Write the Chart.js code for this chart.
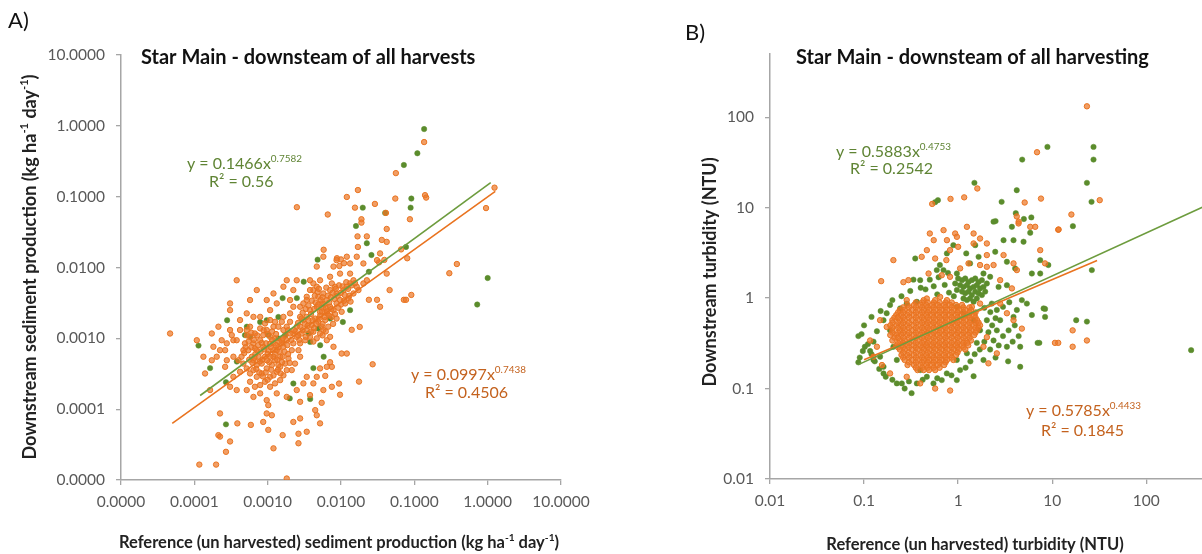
<!DOCTYPE html>
<html>
<head>
<meta charset="utf-8">
<script src="https://cdn.jsdelivr.net/npm/chart.js@4.4.1/dist/chart.umd.min.js"></script>
<style>
  body { margin: 0; width: 1202px; height: 554px; overflow: hidden; position: relative; background: #fff; }
  .panel { position: absolute; top: 0; }
</style>
</head>
<body>
<div class="panel" style="left:0"><canvas id="chartA" width="600" height="554"></canvas></div>
<div class="panel" style="left:600px"><canvas id="chartB" width="640" height="554"></canvas></div>
<script>
// ---- panel A : sediment production (kg ha-1 day-1) ----
const sedTicks = [1e-5, 1e-4, 1e-3, 1e-2, 1e-1, 1, 10];
const sedTickLabels = ['0.0000', '0.0001', '0.0010', '0.0100', '0.1000', '1.0000', '10.0000'];

const sedGreen = [
  [0.136, 0.90], [0.11, 0.41], [0.072, 0.28], [0.091, 0.094], [0.089, 0.070], [0.0198, 0.070],
  [0.016, 0.0385], [0.040, 0.059], [0.0225, 0.022], [0.077, 0.0195], [0.0048, 0.0129], [1.0, 0.0071],
  [0.72, 0.0030], [0.026, 0.015], [0.024, 0.0087], [0.0031, 0.0063], [0.0025, 0.0037], [0.0016, 0.0037],
  [0.0014, 0.0020], [0.00097, 0.0018], [0.00079, 0.0017], [0.00052, 0.00146], [0.00028, 0.0018],
  [0.000114, 0.00079], [0.000164, 0.00038], [0.00027, 0.00024], [0.00038, 0.00047], [0.00049, 0.00111],
  [0.00058, 0.00105], [0.00102, 0.00111], [0.0014, 0.0010], [0.00173, 0.00111], [0.0036, 0.00117],
  [0.0038, 0.00089], [0.0049, 0.00138], [0.0052, 0.0008], [0.0058, 0.00055], [0.0042, 0.00038],
  [0.00224, 0.00023], [0.002, 0.000142], [0.0038, 0.000139], [0.00027, 0.000061], [0.0133, 0.0025],
  [0.0106, 0.0017], [0.0071, 0.0019]
];

const sedOrange = [
  [0.136, 0.59], [0.056, 0.215], [0.017, 0.124], [0.012, 0.099], [0.0025, 0.071], [0.0066, 0.056],
  [0.029, 0.079], [0.055, 0.094], [0.14, 0.105], [0.145, 0.097], [0.95, 0.069], [1.24, 0.134],
  [0.087, 0.048], [0.0155, 0.070], [0.019, 0.048], [0.019, 0.043], [0.041, 0.059], [0.042, 0.035],
  [0.0168, 0.0275], [0.0225, 0.0275], [0.017, 0.0195], [0.036, 0.0245], [0.042, 0.023], [0.066, 0.018],
  [0.0058, 0.0178], [0.08, 0.0135], [0.033, 0.0118], [0.039, 0.0128], [0.0088, 0.0135], [0.010, 0.013],
  [0.011, 0.0115], [0.0095, 0.0105], [0.30, 0.0083], [0.38, 0.0112], [0.091, 0.0041], [0.072, 0.0035],
  [0.077, 0.0035], [0.046, 0.0048], [0.031, 0.0035], [0.024, 0.0035], [0.018, 0.00145], [0.014, 0.00132],
  [0.0176, 0.000245], [0.027, 0.00043], [0.0094, 0.00023], [0.0097, 0.00016],
  [4.67e-3, 1.03e-2], [5.75e-3, 1.42e-2], [7.9e-3, 1.03e-2], [8.7e-3, 1.27e-2], [1.2e-2, 1.42e-2],
  [1.33e-2, 1.14e-2], [1.64e-2, 1.42e-2], [2.02e-2, 1.14e-2], [3.1e-2, 1.27e-2], [3.41e-2, 1.58e-2],
  [4.2e-2, 8.2e-3], [1.33e-2, 8.2e-3], [9.7e-3, 8.2e-3], [7.1e-3, 7.4e-3], [5.18e-3, 6.6e-3],
  [4.2e-3, 5.96e-3], [3.78e-3, 6.6e-3], [2.49e-3, 6.6e-3], [1.82e-3, 6.6e-3], [1.64e-3, 5.35e-3],
  [1.2e-3, 4.3e-3], [9.7e-4, 3.47e-3], [7.1e-4, 4.8e-3], [3.78e-4, 6.6e-3], [5.75e-4, 3.47e-3],
  [3.07e-4, 3.11e-3], [3.07e-4, 2.5e-3], [5.18e-4, 2.25e-3], [7.9e-4, 2.01e-3], [6.4e-4, 2.01e-3],
  [4.2e-4, 1.81e-3], [1.33e-3, 3.11e-3], [1.08e-3, 2.5e-3], [2.02e-3, 3.47e-3], [2.24e-3, 4.8e-3],
  [3.41e-3, 3.86e-3], [3.78e-3, 4.8e-3], [4.67e-3, 5.35e-3], [2.77e-3, 2.01e-3], [2.02e-3, 2.25e-3],
  [1.64e-3, 2.01e-3], [2.24e-3, 2.79e-3], [2.77e-3, 2.79e-3],
  [3.07e-3, 3.11e-3], [3.41e-3, 3.47e-3], [4.2e-3, 4.8e-3], [4.9e-3, 3.86e-3], [5.45e-3, 3.11e-3],
  [5.75e-3, 4.3e-3], [6.4e-3, 3.47e-3], [7.1e-3, 4.8e-3], [7.5e-3, 5.96e-3], [8.3e-3, 5.35e-3],
  [8.7e-3, 4.3e-3], [9.7e-3, 3.47e-3], [1.08e-2, 4.8e-3], [1.2e-2, 5.35e-3], [1.33e-2, 5.96e-3],
  [1.48e-2, 6.6e-3], [1.64e-2, 5.35e-3], [4.67e-3, 2.79e-3], [5.18e-3, 2.37e-3], [5.75e-3, 2.64e-3],
  [6.4e-3, 2.25e-3], [7.1e-3, 2.79e-3], [7.9e-3, 2.5e-3], [8.7e-3, 3.11e-3], [1.02e-2, 2.37e-3],
  [3.78e-3, 2.5e-3], [3.41e-3, 2.01e-3], [3.07e-3, 1.81e-3], [2.77e-3, 1.46e-3], [2.49e-3, 1.46e-3],
  [2.24e-3, 1.17e-3], [2.9e-3, 1.17e-3], [3.41e-3, 1.31e-3], [4.0e-3, 1.54e-3], [4.45e-3, 1.9e-3],
  [4.9e-3, 1.71e-3], [5.45e-3, 1.46e-3], [6.1e-3, 1.81e-3], [4.2e-3, 1.24e-3], [3.78e-3, 1.05e-3],
  [3.25e-3, 9.4e-4], [2.77e-3, 8.5e-4], [4.67e-3, 1.0e-3], [5.18e-3, 1.17e-3], [5.75e-3, 1.31e-3],
  [6.7e-3, 1.46e-3], [7.5e-3, 2.01e-3], [8.7e-3, 1.9e-3], [1.14e-2, 3.11e-3], [1.26e-2, 3.65e-3],
  [1.48e-2, 4.3e-3], [1.73e-2, 4.8e-3], [2.02e-2, 5.96e-3], [2.25e-2, 6.6e-3], [3.41e-2, 2.79e-3],
  [7.1e-3, 1.05e-3], [6.4e-3, 9.4e-4],
  [3.2e-3, 1.6e-3], [3.6e-3, 1.8e-3], [3.9e-3, 2.2e-3], [4.3e-3, 2.6e-3], [4.5e-3, 3.2e-3],
  [4.9e-3, 3.0e-3], [5.3e-3, 3.5e-3], [5.6e-3, 3.8e-3], [5.9e-3, 3.0e-3], [6.2e-3, 2.7e-3],
  [6.6e-3, 4.0e-3], [6.9e-3, 3.2e-3], [7.3e-3, 3.8e-3], [7.7e-3, 4.4e-3], [8.1e-3, 3.6e-3],
  [8.5e-3, 5.0e-3], [9.0e-3, 4.0e-3], [9.4e-3, 5.6e-3], [1.0e-2, 4.4e-3], [1.05e-2, 5.4e-3],
  [1.12e-2, 4.1e-3], [1.18e-2, 6.2e-3], [1.25e-2, 5.0e-3], [1.4e-2, 5.6e-3], [1.55e-2, 6.0e-3],
  [3.0e-3, 1.3e-3], [2.6e-3, 1.1e-3], [2.4e-3, 1.25e-3], [3.0e-3, 2.3e-3], [3.3e-3, 2.6e-3],
  [3.6e-3, 2.9e-3], [4.0e-3, 3.4e-3], [4.4e-3, 4.0e-3], [4.8e-3, 4.5e-3], [5.2e-3, 2.1e-3],
  [5.5e-3, 2.4e-3], [6.0e-3, 2.0e-3], [6.5e-3, 2.4e-3], [6.9e-3, 2.1e-3], [7.4e-3, 2.6e-3],
  [3.9e-3, 1.25e-3], [4.3e-3, 1.4e-3], [4.6e-3, 1.6e-3], [5.0e-3, 1.9e-3], [3.5e-3, 1.5e-3],
  [2.9e-3, 1.9e-3], [2.6e-3, 1.65e-3], [4.1e-3, 1.8e-3], [5.6e-3, 1.6e-3], [6.2e-3, 1.25e-3],
  [7.8e-3, 1.6e-3], [8.3e-3, 2.2e-3], [9.2e-3, 2.7e-3], [1.0e-2, 3.0e-3], [1.1e-2, 3.4e-3],
  [1.3e-2, 4.0e-3], [1.35e-2, 3.3e-3], [6.3e-3, 5.2e-3], [5.0e-3, 5.0e-3], [3.3e-3, 1.05e-3],
  [2.7e-3, 9.5e-4], [4.2e-3, 9.0e-4], [5.6e-3, 1.1e-3],
  [5.18e-4, 1.31e-3], [5.75e-4, 1.05e-3], [6.4e-4, 8.5e-4], [5.45e-4, 6.8e-4], [6.1e-4, 5.5e-4],
  [7.1e-4, 6.8e-4], [7.9e-4, 9.4e-4], [8.7e-4, 1.11e-3], [9.7e-4, 1.31e-3], [1.08e-3, 1.05e-3],
  [1.2e-3, 8.5e-4], [1.33e-3, 6.8e-4], [1.48e-3, 5.5e-4], [1.64e-3, 7.6e-4], [1.82e-3, 9.4e-4],
  [2.02e-3, 1.17e-3], [1.64e-3, 1.31e-3], [1.4e-3, 1.46e-3], [1.2e-3, 1.46e-3], [1.02e-3, 6.8e-4],
  [9.2e-4, 5.5e-4], [8.3e-4, 4.4e-4], [7.1e-4, 4.2e-4], [6.4e-4, 3.56e-4], [5.75e-4, 3.19e-4],
  [7.1e-4, 2.86e-4], [8.3e-4, 3.19e-4], [9.7e-4, 3.76e-4], [1.14e-3, 4.2e-4], [1.26e-3, 4.9e-4],
  [1.48e-3, 3.96e-4], [1.73e-3, 4.4e-4], [1.92e-3, 5.2e-4], [2.13e-3, 6.8e-4], [2.24e-3, 8.5e-4],
  [1.08e-3, 2.86e-4], [9.2e-4, 2.44e-4], [7.9e-4, 2.19e-4], [6.7e-4, 2.07e-4], [5.75e-4, 2.44e-4],
  [5.18e-4, 1.86e-4], [1.26e-3, 2.31e-4], [1.48e-3, 2.57e-4], [1.64e-3, 3.0e-4], [1.82e-3, 3.56e-4],
  [1.33e-3, 3.37e-4], [8.7e-4, 7.6e-4], [7.5e-4, 5.5e-4], [1.08e-3, 5.5e-4], [1.2e-3, 6.8e-4],
  [1.56e-3, 9.4e-4], [6.7e-4, 1.17e-3], [7.9e-4, 1.38e-3], [9.2e-4, 1.62e-3], [1.08e-3, 1.81e-3],
  [1.26e-3, 1.71e-3], [1.56e-3, 1.71e-3], [1.82e-3, 1.46e-3], [2.02e-3, 1.71e-3], [2.49e-3, 1.05e-3],
  [2.63e-3, 6.8e-4], [2.77e-3, 5.5e-4], [2.36e-3, 4.4e-4], [2.13e-3, 3.56e-4], [6.4e-4, 4.9e-4],
  [4.9e-4, 8.5e-4], [5.75e-4, 1.46e-3], [4.67e-4, 4.4e-4], [5.18e-4, 3.76e-4], [6.7e-4, 7.2e-4],
  [5.5e-4, 9e-4], [6e-4, 7.5e-4], [6.8e-4, 6e-4], [7.4e-4, 8e-4], [8e-4, 6.5e-4], [8.5e-4, 5e-4],
  [9e-4, 7e-4], [9.5e-4, 8.5e-4], [1.0e-3, 6e-4], [1.05e-3, 4.6e-4], [1.1e-3, 7.5e-4], [1.15e-3, 9.5e-4],
  [1.25e-3, 6e-4], [1.3e-3, 8e-4], [1.35e-3, 5e-4], [1.4e-3, 4.2e-4], [1.45e-3, 6.5e-4], [1.55e-3, 8.5e-4],
  [1.6e-3, 5.5e-4], [1.7e-3, 6.5e-4], [1.75e-3, 1.1e-3], [1.85e-3, 8e-4], [1.9e-3, 6e-4], [2.0e-3, 4.5e-4],
  [6.2e-4, 4.5e-4], [7e-4, 3.7e-4], [7.7e-4, 3.3e-4], [8.6e-4, 2.9e-4], [9.4e-4, 3.3e-4], [1.0e-3, 2.6e-4],
  [1.12e-3, 3.6e-4], [1.2e-3, 3.0e-4], [1.38e-3, 3.6e-4], [1.5e-3, 3.2e-4], [1.57e-3, 4.6e-4],
  [1.3e-3, 1.15e-3], [1.15e-3, 1.25e-3], [1.0e-3, 1.15e-3], [8.8e-4, 1.3e-3], [7.2e-4, 1.1e-3],
  [6.0e-4, 1.2e-3], [5.2e-4, 1.1e-3], [4.8e-4, 6.2e-4], [4.4e-4, 5.5e-4], [5.6e-4, 5e-4], [6.6e-4, 5.3e-4],
  [7.8e-4, 4.7e-4], [9.8e-4, 4.9e-4], [1.2e-3, 5.5e-4], [1.4e-3, 7.5e-4], [1.6e-3, 1.0e-3],
  [1.9e-3, 1.3e-3], [2.3e-3, 1.3e-3], [2.1e-3, 9.5e-4], [8.3e-4, 8.6e-4], [1.08e-3, 8.4e-4],
  [1.27e-3, 1.0e-3], [1.44e-3, 9.0e-4], [6.5e-4, 9.5e-4], [5.0e-4, 7.5e-4],
  [4.67e-5, 1.17e-3], [1.08e-4, 9.4e-4], [1.33e-4, 5.5e-4], [1.4e-4, 3.19e-4], [1.73e-4, 1.17e-3],
  [2.13e-4, 1.46e-3], [1.73e-4, 4.9e-4], [2.02e-4, 5.5e-4], [2.36e-4, 9.4e-4], [2.63e-4, 6.8e-4],
  [2.77e-4, 4.9e-4], [3.07e-4, 1.31e-3], [3.24e-4, 1.11e-3], [3.41e-4, 9.4e-4], [3.41e-4, 2.86e-4],
  [3.78e-4, 1.86e-4], [3.07e-4, 2.07e-4], [4.2e-4, 3.37e-4], [4.67e-4, 6.8e-4], [4.0e-4, 4.9e-4],
  [3.41e-4, 5.5e-4], [2.63e-4, 3.96e-4], [1.64e-4, 1.86e-4], [1.82e-4, 7.6e-4], [2.24e-4, 6.8e-4],
  [4.2e-4, 1.31e-3], [3.78e-4, 9.4e-4], [2.77e-4, 8.5e-4],
  [2.24e-4, 8.7e-5], [2.13e-4, 4.3e-5], [2.24e-4, 4.1e-5], [3.07e-4, 3.5e-5], [2.7e-4, 2.5e-5],
  [1.17e-4, 1.65e-5], [1.98e-4, 1.65e-5], [3.86e-4, 6.3e-5], [5.9e-4, 6e-5], [8.7e-4, 6.6e-5],
  [1.02e-3, 5.1e-5], [1.2e-3, 2.8e-5], [1.6e-3, 4.3e-5], [2.24e-3, 6.6e-5], [2.63e-3, 4.5e-5],
  [2.77e-3, 7.4e-5], [3.41e-3, 4.8e-5], [2.63e-3, 3.3e-5], [1.82e-3, 1.05e-5], [9.7e-4, 1.34e-4],
  [1.02e-3, 1.14e-4], [9.7e-4, 8.7e-5], [1.14e-3, 8.2e-5], [1.82e-3, 1.49e-4], [2.77e-3, 1.27e-4],
  [3.78e-3, 1.58e-4], [4.45e-3, 9.7e-5], [4.67e-3, 8.2e-5], [5.18e-3, 6.3e-5], [5.45e-3, 1.23e-4],
  [5.75e-3, 1.86e-4], [7.5e-3, 2.07e-4], [1.02e-2, 6.1e-4], [7.9e-3, 7.6e-4], [7.1e-3, 4.6e-4],
  [7.5e-3, 3.96e-4], [6.1e-3, 2.95e-4], [1.2e-2, 6.1e-4], [3.07e-3, 2.31e-4], [3.41e-3, 2.86e-4],
  [4.2e-3, 2.31e-4], [4.67e-3, 2.86e-4], [5.18e-3, 3.76e-4], [6.4e-3, 3.96e-4], [2.49e-3, 1.86e-4],
  [7.9e-4, 1.67e-4], [1.33e-3, 1.67e-4], [1.08e-3, 2.07e-4], [6.4e-4, 1.49e-4]
];

// power-law trend lines, end points taken from the figure
const sedGreenFit = [[0.00012, 0.000156], [1.1, 0.158]];
const sedOrangeFit = [[0.00005, 0.000063], [1.27, 0.119]];

// ---- panel B : turbidity (NTU) ----
const turbTicks = [0.01, 0.1, 1, 10, 100];
const turbTickLabels = ['0.01', '0.1', '1', '10', '100'];

const turbGreen = [
  [27.5, 47], [27.5, 34], [8.9, 47], [4.8, 34], [23.4, 18.8], [26.2, 11.6], [1.49, 18.8], [2.9, 11.6],
  [4.2, 15.6], [0.61, 12.1], [0.57, 11.5], [4.1, 8.7], [5.0, 7.5], [6.0, 7.8], [2.5, 7.1],
  [18, 0.57], [23.4, 0.55], [7.0, 0.32], [8.4, 0.76], [300, 0.266],
  [0.89, 3.85], [1.52, 3.85], [2.38, 7.0], [3.73, 6.14], [3.04, 4.37], [3.88, 4.37], [4.96, 4.2],
  [5.84, 5.27], [16.6, 6.25], [7.46, 2.63], [9.1, 2.32], [6.08, 1.87], [7.46, 1.87], [26.4, 2.04],
  [4.04, 2.13], [3.3, 2.52], [2.48, 3.25], [1.65, 2.86], [1.22, 3.12], [0.76, 3.12], [0.64, 2.32],
  [0.35, 2.74], [0.335, 1.6], [0.395, 1.58], [0.593, 2.04], [0.699, 2.04], [0.97, 1.87], [1.34, 2.42],
  [2.69, 1.33], [3.3, 1.39], [2.19, 1.72], [1.86, 1.87],
  [1.0, 1.65], [1.1, 1.58], [1.19, 1.65], [1.29, 1.51], [1.4, 1.58], [1.52, 1.65], [1.65, 1.51],
  [1.79, 1.58], [1.05, 1.39], [1.14, 1.33], [1.24, 1.39], [1.34, 1.28], [1.46, 1.33], [1.58, 1.39],
  [1.71, 1.28], [1.86, 1.33], [1.1, 1.18], [1.19, 1.13], [1.29, 1.18], [1.4, 1.08], [1.52, 1.18],
  [1.65, 1.13], [1.79, 1.08], [1.14, 0.99], [1.24, 0.95], [1.34, 0.99], [1.46, 0.91], [1.58, 0.99],
  [0.97, 1.23], [0.93, 1.45], [1.94, 1.18], [2.02, 1.45],
  [0.087, 0.38], [0.094, 0.40], [0.087, 0.195], [0.116, 0.26], [0.126, 0.33], [0.137, 0.43],
  [0.161, 0.57], [0.174, 0.68], [0.189, 0.84], [0.148, 0.225], [0.161, 0.174], [0.126, 0.207],
  [0.102, 0.29], [4.76, 0.95], [5.38, 0.87], [4.21, 0.74], [3.88, 0.62], [3.44, 0.44], [6.08, 0.65],
  [8.1, 0.77], [8.4, 0.62], [7.3, 0.32], [4.57, 0.29], [3.3, 0.29], [4.57, 0.174], [2.8, 0.57],
  [2.58, 0.44], [2.38, 0.34], [2.19, 0.27], [1.86, 0.207], [2.58, 0.74], [2.28, 0.87], [2.02, 0.57],
  [0.223, 0.114], [0.32, 0.089], [0.364, 0.114], [0.252, 0.114], [0.161, 0.147], [0.67, 0.124],
  [0.968, 0.124], [1.46, 0.137], [0.465, 0.135], [0.547, 0.114], [0.758, 0.147], [1.05, 0.16],
  [0.395, 0.16], [0.284, 0.87], [0.364, 0.91], [0.242, 0.77], [0.968, 0.80], [1.14, 0.68],
  [1.46, 0.57], [1.71, 0.44], [1.58, 0.32], [1.24, 0.245], [0.968, 0.207], [0.223, 0.207],
  [0.205, 0.29], [0.189, 0.44],
  [0.11, 0.31], [0.12, 0.24], [0.13, 0.2], [0.145, 0.165], [0.17, 0.135], [0.2, 0.125], [0.27, 0.1],
  [0.3, 0.12], [0.42, 0.125], [0.6, 0.13], [0.85, 0.14], [1.2, 0.17], [1.35, 0.2], [1.5, 0.24],
  [1.7, 0.27], [1.9, 0.33], [2.1, 0.42], [2.3, 0.5], [2.5, 0.6], [2.2, 0.7], [1.9, 0.78], [3.0, 0.8],
  [3.5, 0.9], [4.0, 0.5], [4.4, 0.38], [3.8, 0.33], [3.0, 0.38], [2.7, 0.3], [2.5, 0.22], [3.4, 0.2],
  [0.1, 0.5], [0.12, 0.62], [0.15, 0.72], [0.2, 0.95], [0.25, 1.05], [0.31, 1.2], [0.45, 1.25],
  [0.55, 1.35], [0.72, 1.4], [0.8, 1.15], [0.9, 1.05], [0.6, 1.1], [0.4, 1.3], [0.5, 1.6], [0.62, 1.7],
  [0.78, 1.9], [0.09, 0.22], [0.097, 0.26]
];

const turbOrange = [
  [23.4, 132], [6.9, 41], [32, 12.1], [1.6, 16.3], [7.6, 12.6], [5.1, 11.4], [1.16, 13], [0.83, 12.5],
  [0.53, 11], [16, 8.4], [11.6, 5.7], [4.2, 8.0], [4.4, 7.0],
  [16.5, 0.44], [23.4, 0.34], [16.5, 0.29], [10.7, 0.32], [11.6, 0.32],
  [0.50, 5.18], [0.70, 5.64], [0.55, 4.37], [0.76, 4.37], [0.93, 5.18], [0.97, 4.76], [1.24, 6.14],
  [1.46, 5.18], [1.71, 4.56], [1.46, 4.02], [2.02, 4.02], [4.39, 6.69], [5.84, 6.14], [6.6, 6.14],
  [11.7, 5.74], [7.46, 3.39], [8.4, 2.42], [3.88, 2.42], [3.04, 2.99], [2.02, 2.99], [1.29, 2.42],
  [1.0, 3.69], [0.82, 3.39], [0.75, 2.63], [0.57, 2.74], [0.465, 3.39], [0.41, 2.86], [0.205, 2.63],
  [0.152, 1.54], [0.262, 1.5], [0.296, 1.58], [0.485, 1.87], [0.67, 1.79], [0.82, 1.72], [1.05, 2.13],
  [1.71, 2.32], [2.02, 2.22], [2.38, 2.32], [2.8, 1.58], [3.73, 1.28], [4.21, 2.04],
  [0.137, 0.29], [0.126, 0.225], [0.116, 0.34], [0.155, 0.182], [0.189, 0.147], [0.57, 0.1],
  [0.822, 0.095], [0.395, 0.114], [0.284, 0.135], [2.1, 0.19], [2.58, 0.245], [4.76, 0.46],
  [3.88, 0.57], [3.3, 0.68], [2.02, 0.37], [1.86, 0.29], [0.148, 0.57], [0.174, 0.48], [0.284, 0.95],
  [0.465, 0.99], [0.644, 1.03], [2.8, 0.87], [1.71, 0.87], [1.4, 0.80]
];

// the solid orange core of panel B, row by row: [y, [x values]]
const turbOrangeCore = [
  [0.95, [0.43, 0.57, 0.76]],
  [0.895, [0.355, 0.415, 0.475, 0.55, 0.635, 0.735, 0.855]],
  [0.84, [0.29, 0.34, 0.40, 0.46, 0.53, 0.61, 0.71, 0.82, 0.95, 1.1]],
  [0.79, [0.26, 0.30, 0.355, 0.415, 0.475, 0.55, 0.635, 0.735, 0.855, 0.985, 1.14, 1.32]],
  [0.74, [0.24, 0.27, 0.32, 0.37, 0.43, 0.49, 0.57, 0.66, 0.76, 0.89, 1.02, 1.19, 1.37]],
  [0.695, [0.23, 0.26, 0.30, 0.355, 0.415, 0.475, 0.55, 0.635, 0.735, 0.855, 0.985, 1.14, 1.32, 1.53]],
  [0.65, [0.22, 0.25, 0.29, 0.34, 0.40, 0.46, 0.53, 0.61, 0.71, 0.82, 0.95, 1.1, 1.28, 1.48]],
  [0.61, [0.21, 0.23, 0.26, 0.30, 0.355, 0.415, 0.475, 0.55, 0.635, 0.735, 0.855, 0.985, 1.14, 1.32, 1.53]],
  [0.57, [0.20, 0.24, 0.27, 0.32, 0.37, 0.43, 0.49, 0.57, 0.66, 0.76, 0.89, 1.02, 1.19, 1.37, 1.59]],
  [0.535, [0.20, 0.23, 0.26, 0.30, 0.355, 0.415, 0.475, 0.55, 0.635, 0.735, 0.855, 0.985, 1.14, 1.32, 1.53, 1.65]],
  [0.50, [0.19, 0.22, 0.25, 0.29, 0.34, 0.40, 0.46, 0.53, 0.61, 0.71, 0.82, 0.95, 1.1, 1.28, 1.48, 1.71]],
  [0.47, [0.20, 0.23, 0.26, 0.30, 0.355, 0.415, 0.475, 0.55, 0.635, 0.735, 0.855, 0.985, 1.14, 1.32, 1.53, 1.65]],
  [0.44, [0.20, 0.24, 0.27, 0.32, 0.37, 0.43, 0.49, 0.57, 0.66, 0.76, 0.89, 1.02, 1.19, 1.37, 1.59]],
  [0.415, [0.20, 0.23, 0.26, 0.30, 0.355, 0.415, 0.475, 0.55, 0.635, 0.735, 0.855, 0.985, 1.14, 1.32, 1.53]],
  [0.39, [0.19, 0.22, 0.25, 0.29, 0.34, 0.40, 0.46, 0.53, 0.61, 0.71, 0.82, 0.95, 1.1, 1.28, 1.48]],
  [0.365, [0.21, 0.23, 0.26, 0.30, 0.355, 0.415, 0.475, 0.55, 0.635, 0.735, 0.855, 0.985, 1.14, 1.32]],
  [0.34, [0.20, 0.24, 0.27, 0.32, 0.37, 0.43, 0.49, 0.57, 0.66, 0.76, 0.89, 1.02, 1.19, 1.37]],
  [0.32, [0.23, 0.26, 0.30, 0.355, 0.415, 0.475, 0.55, 0.635, 0.735, 0.855, 0.985, 1.14, 1.25]],
  [0.30, [0.22, 0.25, 0.29, 0.34, 0.40, 0.46, 0.53, 0.61, 0.71, 0.82, 0.95, 1.1, 1.28]],
  [0.285, [0.23, 0.26, 0.30, 0.355, 0.415, 0.475, 0.55, 0.635, 0.735, 0.855, 0.985, 1.14]],
  [0.27, [0.24, 0.27, 0.32, 0.37, 0.43, 0.49, 0.57, 0.66, 0.76, 0.89, 1.02, 1.19]],
  [0.25, [0.26, 0.30, 0.355, 0.415, 0.475, 0.55, 0.635, 0.735, 0.855, 0.985]],
  [0.235, [0.25, 0.29, 0.34, 0.40, 0.46, 0.53, 0.61, 0.71, 0.82, 0.95]],
  [0.22, [0.26, 0.30, 0.355, 0.415, 0.475, 0.55, 0.635, 0.735, 0.855]],
  [0.207, [0.27, 0.32, 0.37, 0.43, 0.49, 0.57, 0.66, 0.76, 0.89]],
  [0.195, [0.30, 0.355, 0.415, 0.475, 0.55, 0.635, 0.735]],
  [0.182, [0.29, 0.34, 0.40, 0.46, 0.53, 0.61, 0.71]],
  [0.17, [0.355, 0.415, 0.475, 0.55, 0.635]],
  [0.16, [0.37, 0.43, 0.49, 0.57]]
];

const turbGreenFit = [[0.087, 0.184], [400, 10.15]];
const turbOrangeFit = [[0.1, 0.208], [30, 2.61]];

// ---- styling ----
const FONT = 'Lato, "Open Sans", sans-serif';
const GREEN = '#5b8c2c';
const GREEN_LINE = '#6d9c3e';
const ORANGE = '#e9731f';
const ORANGE_FILL = 'rgba(236, 120, 42, 0.72)';
const AXIS = '#a6a6a6';
const TICK_TEXT = '#595959';

const toXY = arr => arr.map(p => ({ x: p[0], y: p[1] }));

function logAxis(min, max, ticks, labels, fixSize, horizontal) {
  return {
    type: 'logarithmic',
    min: min,
    max: max,
    afterBuildTicks: s => { s.ticks = ticks.map(v => ({ value: v })); },
    afterFit: s => { if (horizontal) s.height = fixSize; else s.width = fixSize; },
    ticks: {
      autoSkip: false,
      maxRotation: 0,
      padding: horizontal ? 8 : 11,
      color: TICK_TEXT,
      font: { family: FONT, size: 15.5 },
      callback: v => labels[ticks.indexOf(v)]
    },
    grid: { drawOnChartArea: false, tickLength: 5, color: AXIS, lineWidth: 1.3 },
    border: { color: AXIS, width: 1.5 }
  };
}

function scatterSet(points, fill, border, bw) {
  return {
    data: toXY(points),
    pointRadius: 2.7,
    pointBackgroundColor: fill,
    pointBorderColor: border,
    pointBorderWidth: bw,
    showLine: false
  };
}

function fitSet(points, color) {
  return {
    data: toXY(points),
    showLine: true,
    borderColor: color,
    borderWidth: 1.6,
    pointRadius: 0
  };
}

// text with superscript parts: parts = [[text, isSup], ...]
function richWidth(ctx, parts, size, weight) {
  let w = 0;
  parts.forEach(p => {
    ctx.font = weight + ' ' + (p[1] ? size * 0.62 : size) + 'px ' + FONT;
    w += ctx.measureText(p[0]).width;
  });
  return w;
}

function drawRich(ctx, o) {
  const weight = o.bold ? 'bold' : 'normal';
  ctx.save();
  ctx.translate(o.x, o.y);
  if (o.rotate) ctx.rotate(o.rotate);
  ctx.fillStyle = o.color;
  ctx.textBaseline = 'middle';
  ctx.textAlign = 'left';
  const w = richWidth(ctx, o.parts, o.size, weight);
  let x = o.align === 'center' ? -w / 2 : 0;
  o.parts.forEach(p => {
    const sz = p[1] ? o.size * 0.62 : o.size;
    ctx.font = weight + ' ' + sz + 'px ' + FONT;
    ctx.fillText(p[0], x, p[1] ? -o.size * 0.32 : 0);
    x += ctx.measureText(p[0]).width;
  });
  ctx.restore();
}

const textPlugin = {
  id: 'figureText',
  afterDraw(chart, args, opts) {
    opts.items.forEach(it => drawRich(chart.ctx, it));
  }
};

function makeChart(id, datasets, xAxis, yAxis, padding, items) {
  return new Chart(document.getElementById(id), {
    type: 'scatter',
    data: { datasets: datasets },
    options: {
      responsive: false,
      animation: false,
      layout: { padding: padding },
      scales: { x: xAxis, y: yAxis },
      plugins: {
        legend: { display: false },
        tooltip: { enabled: false },
        figureText: { items: items }
      }
    },
    plugins: [textPlugin]
  });
}

const unitParts = [['(kg ha', false], ['-1', true], [' day', false], ['-1', true], [')', false]];
const EQ_GREEN = '#5f8434';
const EQ_ORANGE = '#c4621e';

makeChart('chartA',
  [
    fitSet(sedGreenFit, GREEN_LINE),
    fitSet(sedOrangeFit, ORANGE),
    scatterSet(sedOrange, ORANGE_FILL, ORANGE, 1),
    scatterSet(sedGreen, GREEN, GREEN, 0.5)
  ],
  logAxis(1e-5, 10, sedTicks, sedTickLabels, 74, true),
  logAxis(1e-5, 10, sedTicks, sedTickLabels, 121, false),
  { left: 0, right: 39, top: 55, bottom: 0 },
  [
    { x: 8, y: 21, size: 22, color: '#111', parts: [['A)', false]] },
    { x: 141, y: 58, size: 20, bold: true, color: '#111', parts: [['Star Main - downsteam of all harvests', false]] },
    { x: 30, y: 267, size: 18, bold: true, color: '#222', align: 'center', rotate: -Math.PI / 2,
      parts: [['Downstream sediment production ', false]].concat(unitParts) },
    { x: 339, y: 543, size: 16.5, bold: true, color: '#222', align: 'center',
      parts: [['Reference (un harvested) sediment production ', false]].concat(unitParts) },
    { x: 187, y: 164, size: 16, color: EQ_GREEN, parts: [['y = 0.1466x', false], ['0.7582', true]] },
    { x: 209, y: 182, size: 16, color: EQ_GREEN, parts: [['R² = 0.56', false]] },
    { x: 411, y: 375, size: 16, color: EQ_ORANGE, parts: [['y = 0.0997x', false], ['0.7438', true]] },
    { x: 425, y: 393, size: 16, color: EQ_ORANGE, parts: [['R² = 0.4506', false]] }
  ]
);

const turbOrangeAll = turbOrange.concat(
  turbOrangeCore.flatMap(row => row[1].map(x => [x, row[0]]))
);

makeChart('chartB',
  [
    fitSet(turbGreenFit, GREEN_LINE),
    fitSet(turbOrangeFit, ORANGE),
    scatterSet(turbOrangeAll, ORANGE_FILL, ORANGE, 1),
    scatterSet(turbGreen, GREEN, GREEN, 0.5)
  ],
  logAxis(0.01, 500, turbTicks, turbTickLabels, 75, true),
  logAxis(0.01, 500, turbTicks, turbTickLabels, 170, false),
  { left: 0, right: 28, top: 54, bottom: 0 },
  [
    { x: 85, y: 33, size: 22, color: '#111', parts: [['B)', false]] },
    { x: 196, y: 58, size: 20, bold: true, color: '#111', parts: [['Star Main - downsteam of all harvesting', false]] },
    { x: 110, y: 272, size: 18, bold: true, color: '#222', align: 'center', rotate: -Math.PI / 2,
      parts: [['Downstream turbidity (NTU)', false]] },
    { x: 375, y: 545, size: 16.5, bold: true, color: '#222', align: 'center',
      parts: [['Reference (un harvested) turbidity (NTU)', false]] },
    { x: 236, y: 152, size: 16, color: EQ_GREEN, parts: [['y = 0.5883x', false], ['0.4753', true]] },
    { x: 250, y: 169, size: 16, color: EQ_GREEN, parts: [['R² = 0.2542', false]] },
    { x: 426, y: 411, size: 16, color: EQ_ORANGE, parts: [['y = 0.5785x', false], ['0.4433', true]] },
    { x: 441, y: 431, size: 16, color: EQ_ORANGE, parts: [['R² = 0.1845', false]] }
  ]
);
</script>
</body>
</html>
